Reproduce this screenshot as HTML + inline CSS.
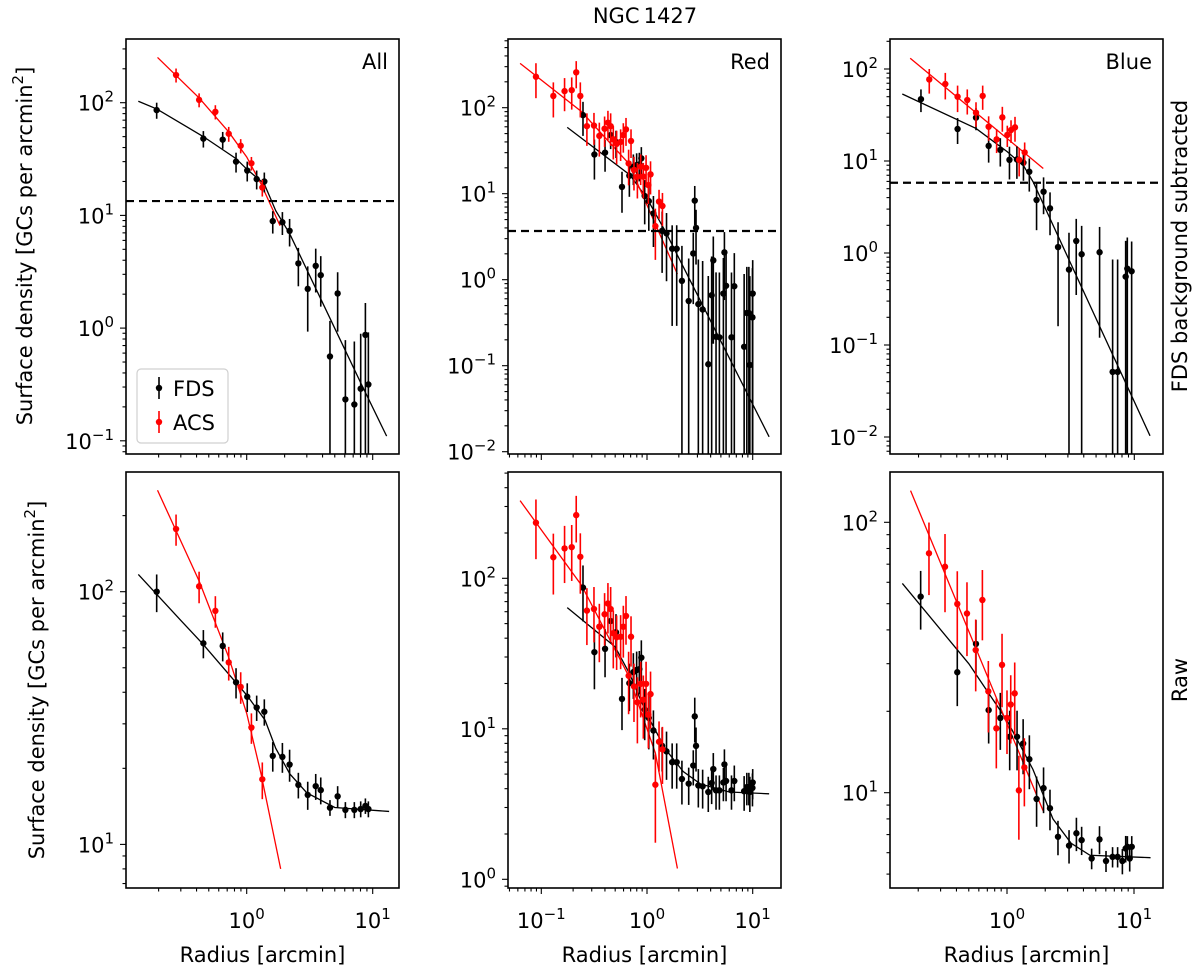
<!DOCTYPE html>
<html><head><meta charset="utf-8"><style>
html,body{margin:0;padding:0;background:#fff;}
svg{display:block;font-family:"DejaVu Sans","Liberation Sans",sans-serif;}
</style></head><body>
<svg id="fig" width="1200" height="978" viewBox="0 0 1200 978" xmlns="http://www.w3.org/2000/svg"></svg>
<script>
// ---------- DATA ----------
// Panel 1: All, background subtracted
const p1FdsR=[0.193,0.453,0.645,0.823,1.01,1.2,1.38,1.61,1.92,2.19,2.57,3.05,3.53,3.87,4.58,5.27,6.07,7.15,8.03,8.75,9.24];
const p1FdsV=[86,48,47,30,25,21,20,8.9,8.7,7.3,3.75,2.23,3.57,2.95,0.56,2.03,0.233,0.21,0.29,0.87,0.316];
const p1FdsE=[14,8,8,6,5,4,4,2,2,2,1.4,1.3,1.5,1.4,0.6,1.1,0.55,0.55,0.6,0.8,0.6];
const p1AcsR=[0.275,0.419,0.564,0.72,0.896,1.09,1.33];
const p1AcsV=[176,106,83,53,41.5,29,17.7];
const p1AcsE=[25,15,12,8,6,4,3];
const p1FitFdsR=[0.138,0.193,0.453,0.82,1.01,1.38,1.7,2.19,4,8,12.9];
const p1FitFdsV=[103,88,50,32,25.5,19,11,6.9,1.68,0.33,0.11];
const p1FitAcsR=[0.196,0.42,0.72,1.0,1.3,1.84];
const p1FitAcsV=[252,110,55,33,19,8.1];
const p1Bg=[13.4];
// Panel 2: Red, background subtracted
const p2FdsR=[0.248,0.318,0.401,0.453,0.509,0.580,0.681,0.743,0.798,0.846,0.884,0.951,1.04,1.15,1.39,1.53,1.73,1.91,2.14,2.48,2.74,2.83,2.91,3.06,3.36,3.80,4.09,4.24,4.5,4.84,5.28,5.40,5.6,6.3,6.7,8.3,8.8,9.2,9.4,10,9.95];
const p2FdsV=[82,28.6,30,48,40,12,16.2,20.6,21.5,21.9,25.8,9.4,8.2,5.9,3.7,3.46,2.29,2.29,0.97,0.565,2.02,8.3,4.0,0.52,0.45,0.104,0.66,1.68,0.217,0.214,0.69,2.08,0.85,0.214,0.84,0.166,0.41,0.41,0.102,0.69,0.365];
const p2FdsE=[35,14,12,15,14,6,7,8,8,8,9,5,4.5,3.5,2.5,2.5,2,2,1.5,1.2,1.5,4,2.5,1.2,1.2,1,1.2,1.5,1,1,1.1,1.5,1.2,1,1.2,1,1,1,1,1,1];
const p2AcsR=[0.089,0.130,0.166,0.194,0.214,0.234,0.270,0.315,0.354,0.397,0.427,0.453,0.480,0.516,0.563,0.597,0.633,0.670,0.706,0.753,0.811,0.871,0.923,0.98,1.03,1.08,1.20,1.30,1.40];
const p2AcsV=[229,137,156,160,258,137,61,62,47,57,67,61,43,38,40,48,56,22.5,41,18.9,15.8,20.6,15.8,20,12.6,16.8,4.2,8.1,7.2];
const p2AcsE=[100,60,65,65,90,60,25,25,20,22,25,25,18,16,16,18,20,10,15,8,7,8,7,8,5,7,2.5,3,3];
const p2FitFdsR=[0.176,0.69,1.0,1.5,14.3];
const p2FitFdsV=[59,16.5,8.8,3.6,0.0149];
const p2FitAcsR=[0.063,0.24,0.67,1.94];
const p2FitAcsV=[328,90,22.5,1.16];
const p2Bg=[3.68];
// Panel 3: Blue, background subtracted
const p3FdsR=[0.209,0.406,0.567,0.713,0.881,1.04,1.19,1.34,1.49,1.70,1.93,2.17,2.51,3.06,3.49,3.85,5.33,6.75,7.39,8.55,8.81,9.53];
const p3FdsV=[47,22.3,29.6,14.6,13.2,10.3,10.4,9.6,7.65,3.77,4.64,3.06,1.16,0.66,1.35,0.97,1.02,0.051,0.051,0.553,0.676,0.633];
const p3FdsE=[13,7,8,5,4.5,4,4,3.5,3,2,2,1.5,1,1,1,1,0.9,0.8,0.8,0.8,0.8,0.7];
const p3AcsR=[0.243,0.325,0.406,0.484,0.567,0.64,0.713,0.824,0.914,1.0,1.07,1.15,1.24,1.37];
const p3AcsV=[77,68.7,50,46,33.5,51,23.6,17.2,29.8,19.2,21.7,23.2,10.3,12.4];
const p3AcsE=[23,22,16,14,10,15,7,5,9,5,6,7,3.5,3.5];
const p3FitFdsR=[0.149,0.567,1.0,1.35,1.6,13.3];
const p3FitFdsV=[53.5,22.6,12.6,8.8,5.9,0.0103];
const p3FitAcsR=[0.172,1.92];
const p3FitAcsV=[131,8.3];
const p3Bg=[5.8];
// Panel 4: All, raw
const p4FdsR=[0.193,0.453,0.645,0.823,1.01,1.2,1.38,1.61,1.92,2.19,2.57,3.05,3.53,3.87,4.58,5.27,6.07,7.15,8.03,8.75,9.24];
const p4FdsV=[100,62.5,61,43.8,38.4,34.8,33.5,22.4,22.2,20.7,17.2,15.7,17.0,16.4,13.97,15.5,13.7,13.7,13.8,14.2,13.8];
const p4FdsE=[17,8,8,6,5,4,4,3,3,3,2,2,2,2,1,1.5,1,1,1,1,1];
const p4AcsR=[0.275,0.419,0.564,0.72,0.896,1.09,1.33];
const p4AcsV=[177,105,84,52.5,42,29,18.1];
const p4AcsE=[25,15,12,8,6,4,3];
const p4FitFdsR=[0.138,0.3,0.45,1.0,1.4,1.7,2.2,3,5,13.5];
const p4FitFdsV=[117,77,62,39,31,24,19,16,14,13.5];
const p4FitAcsR=[0.196,0.42,0.72,1.0,1.3,1.86];
const p4FitAcsV=[252,110,55,33,19,8];
// Panel 5: Red, raw
const p5FdsR=[0.248,0.318,0.401,0.453,0.509,0.580,0.681,0.743,0.798,0.846,0.884,0.951,1.04,1.15,1.39,1.53,1.73,1.91,2.14,2.48,2.74,2.83,2.91,3.06,3.36,3.80,4.09,4.24,4.5,4.84,5.28,5.40,5.6,6.3,6.7,8.3,8.8,9.2,9.4,10,9.95];
const p5FdsV=[86.7,32.3,34,52,43.8,15.8,20.1,23.8,24.6,24.9,29.7,13.4,11.8,9.75,7.7,7.08,6.0,6.0,4.64,4.32,5.7,12.1,7.7,4.2,4.15,3.8,4.36,5.4,3.9,3.9,4.4,5.8,4.5,3.9,4.5,3.85,4.1,4.1,3.8,4.4,4.05];
const p5FdsE=[35,14,12,15,14,6,7,8,8,8,9,5,4.5,3.5,2.5,2.5,2,2,1.5,1.2,1.5,4,2.5,1.2,1.2,1,1.2,1.5,1,1,1.1,1.5,1.2,1,1.2,1,1,1,1,1,1];
const p5AcsR=[0.089,0.130,0.166,0.194,0.214,0.234,0.270,0.315,0.354,0.397,0.427,0.453,0.480,0.516,0.563,0.597,0.633,0.670,0.706,0.753,0.811,0.871,0.923,0.98,1.03,1.08,1.20,1.30,1.40];
const p5AcsV=[234,138,158,161,263,139,61,62.5,47.7,57.7,68,62.5,43.2,40.6,40.9,47.7,56.2,22.5,40.9,19.1,15.0,19.9,15.6,19.9,12.4,17.0,4.25,8.2,7.3];
const p5AcsE=[100,60,65,65,90,60,25,25,20,22,25,25,18,16,16,18,20,10,15,8,7,8,7,8,5,7,2.5,3,3];
const p5FitFdsR=[0.176,0.5,0.68,1.0,1.5,2.2,3.2,6,14.3];
const p5FitFdsV=[63.8,35,23.4,12.4,7.3,5.2,4.3,3.8,3.7];
const p5FitAcsR=[0.063,0.24,0.67,1.2,1.94];
const p5FitAcsV=[328,90,22.5,6.9,1.18];
// Panel 6: Blue, raw
const p6FdsR=[0.209,0.406,0.57,0.717,0.886,1.05,1.2,1.34,1.5,1.71,1.94,2.18,2.52,3.08,3.52,3.87,4.64,5.35,6.02,6.78,7.43,8.1,8.6,8.87,9.25,9.6];
const p6FdsV=[53.1,27.9,35.5,20.2,18.9,16.1,16.1,15.2,13.3,9.48,10.4,8.76,6.87,6.37,7.08,6.68,5.71,6.72,5.59,5.79,5.79,5.59,6.22,6.31,5.71,6.31];
const p6FdsE=[13,7,8,5,4.5,4,4,3.5,3,2,2,1.5,1,0.9,1,0.8,0.5,0.8,0.5,0.5,0.5,0.6,0.7,0.6,0.6,0.6];
const p6AcsR=[0.243,0.325,0.406,0.484,0.567,0.64,0.713,0.824,0.914,1.0,1.07,1.15,1.24,1.37];
const p6AcsV=[76.8,68.5,49.9,46,33.7,51.6,23.7,17.3,29.7,18.9,21.2,23.3,10.2,12.4];
const p6AcsE=[23,22,16,14,10,15,7,5,9,5,6,7,3.5,3.5];
const p6FitFdsR=[0.15,0.5,1.0,1.6,2.3,3.2,4.5,13.5];
const p6FitFdsV=[59.4,30,18.5,12.2,8,6.5,5.87,5.75];
const p6FitAcsR=[0.174,1.93];
const p6FitAcsV=[131,8.55];

// ---------- RENDER ----------
const NS="http://www.w3.org/2000/svg";
const svg=document.getElementById('fig');
function mk(tag,attrs,parent){const e=document.createElementNS(NS,tag);for(const k in attrs)e.setAttribute(k,attrs[k]);(parent||svg).appendChild(e);return e;}
const FS=21;

function powLabel(parent,x,y,exp,anchor){
  const t=mk('text',{x:x,y:y,'font-size':FS,'text-anchor':anchor,fill:'#000'},parent);
  t.appendChild(document.createTextNode('10'));
  const s=mk('tspan',{dy:-9,'font-size':15},t);
  s.textContent=exp<0?('\u2212'+(-exp)):String(exp);
  return t;
}

function panel(cfg){
  const g=mk('g',{});
  
  
  const L=cfg.box[0],R=cfg.box[1],T=cfg.box[2],B=cfg.box[3];
  const X=r=>cfg.x1+Math.log10(r)*cfg.xd;
  const Y=v=>cfg.y2-(Math.log10(v)-2)*cfg.yd;
  const cid='clip'+cfg.id;
  const cp=mk('clipPath',{id:cid},g);
  mk('rect',{x:L,y:T,width:R-L,height:B-T},cp);
  const plot=mk('g',{'clip-path':'url(#'+cid+')'},g);
  
  
  function fit(rs,vs,col,nm){
    let d='';for(let i=0;i<rs.length;i++)d+=(i?'L':'M')+X(rs[i]).toFixed(2)+' '+Y(vs[i]).toFixed(2);
    const p=mk('path',{d:d,stroke:col,'stroke-width':1.3,fill:'none'},plot);
    
    
  }
  function series(rs,vs,es,col,nm){
    const sg=mk('g',{},plot);
    
    
    for(let i=0;i<rs.length;i++){
      const x=X(rs[i]);const hi=vs[i]+es[i];const lo=vs[i]-es[i];
      const yl=lo>0?Y(lo):B+20;
      const ln=mk('line',{x1:x,x2:x,y1:Y(hi),y2:yl,stroke:col,'stroke-width':1.6},sg);
      
      
      const c=mk('circle',{cx:x,cy:Y(vs[i]),r:3.2,fill:col},sg);
      
      
    }
  }
  fit(cfg.fFR,cfg.fFV,'#000','fds-fit-line');
  fit(cfg.fAR,cfg.fAV,'#ff0000','acs-fit-line');
  series(cfg.fR,cfg.fV,cfg.fE,'#000','fds-series');
  series(cfg.aR,cfg.aV,cfg.aE,'#ff0000','acs-series');
  if(cfg.bg){
    const bl=mk('line',{x1:L,x2:R,y1:Y(cfg.bg[0]),y2:Y(cfg.bg[0]),stroke:'#000','stroke-width':2.2,'stroke-dasharray':'8 5'},plot);
    
    
  }
  const tg=mk('g',{stroke:'#000','stroke-width':1.1},g);
  
  
  const lx0=(L-cfg.x1)/cfg.xd, lx1=(R-cfg.x1)/cfg.xd;
  for(let e=Math.floor(lx0);e<=Math.ceil(lx1);e++){
    for(let m=1;m<10;m++){
      const lv=e+Math.log10(m);if(lv<lx0||lv>lx1)continue;
      const x=cfg.x1+lv*cfg.xd;const len=m===1?6:3.5;
      mk('line',{x1:x,x2:x,y1:B,y2:B+len},tg);
      if(m===1&&cfg.xlabels){
        const t=powLabel(g,x,928,e,'middle');
        
        
      }
    }
  }
  const ly0=2-(B-cfg.y2)/cfg.yd, ly1=2+(cfg.y2-T)/cfg.yd;
  for(let e=Math.floor(ly0);e<=Math.ceil(ly1);e++){
    for(let m=1;m<10;m++){
      const lv=e+Math.log10(m);if(lv<ly0||lv>ly1)continue;
      const y=cfg.y2-(lv-2)*cfg.yd;const len=m===1?6:3.5;
      mk('line',{x1:L,x2:L-len,y1:y,y2:y},tg);
      if(m===1){
        const t=powLabel(g,L-12,y+8,e,'end');
        
        
      }
    }
  }
  const fr=mk('rect',{x:L,y:T,width:R-L,height:B-T,fill:'none',stroke:'#000','stroke-width':1.6},g);
  
  
  if(cfg.label){
    const t=mk('text',{x:R-11,y:T+30,'font-size':FS,'text-anchor':'end'},g);
    t.textContent=cfg.label;
    
    
  }
  if(cfg.xlabels){
    const t=mk('text',{x:(L+R)/2,y:962,'font-size':FS,'text-anchor':'middle'},g);
    t.textContent='Radius [arcmin]';
    
    
  }
}

const C1=[126,399],C2=[508,781],C3=[890,1163],R1=[39,454],R2=[472,888];
panel({id:1,name:'panel-all-subtracted',box:[C1[0],C1[1],R1[0],R1[1]],x1:246.7,xd:126,y2:102.7,yd:112.7,label:'All',
  fR:p1FdsR,fV:p1FdsV,fE:p1FdsE,aR:p1AcsR,aV:p1AcsV,aE:p1AcsE,fFR:p1FitFdsR,fFV:p1FitFdsV,fAR:p1FitAcsR,fAV:p1FitAcsV,bg:p1Bg});
panel({id:2,name:'panel-red-subtracted',box:[C2[0],C2[1],R1[0],R1[1]],x1:647,xd:105.7,y2:107.7,yd:86,label:'Red',
  fR:p2FdsR,fV:p2FdsV,fE:p2FdsE,aR:p2AcsR,aV:p2AcsV,aE:p2AcsE,fFR:p2FitFdsR,fFV:p2FitFdsV,fAR:p2FitAcsR,fAV:p2FitAcsV,bg:p2Bg});
panel({id:3,name:'panel-blue-subtracted',box:[C3[0],C3[1],R1[0],R1[1]],x1:1007.3,xd:127,y2:69,yd:92,label:'Blue',
  fR:p3FdsR,fV:p3FdsV,fE:p3FdsE,aR:p3AcsR,aV:p3AcsV,aE:p3AcsE,fFR:p3FitFdsR,fFV:p3FitFdsV,fAR:p3FitAcsR,fAV:p3FitAcsV,bg:p3Bg});
panel({id:4,name:'panel-all-raw',box:[C1[0],C1[1],R2[0],R2[1]],x1:246.7,xd:126,y2:591.7,yd:252.7,xlabels:true,
  fR:p4FdsR,fV:p4FdsV,fE:p4FdsE,aR:p4AcsR,aV:p4AcsV,aE:p4AcsE,fFR:p4FitFdsR,fFV:p4FitFdsV,fAR:p4FitAcsR,fAV:p4FitAcsV});
panel({id:5,name:'panel-red-raw',box:[C2[0],C2[1],R2[0],R2[1]],x1:647,xd:105.7,y2:578.3,yd:150.5,xlabels:true,
  fR:p5FdsR,fV:p5FdsV,fE:p5FdsE,aR:p5AcsR,aV:p5AcsV,aE:p5AcsE,fFR:p5FitFdsR,fFV:p5FitFdsV,fAR:p5FitAcsR,fAV:p5FitAcsV});
panel({id:6,name:'panel-blue-raw',box:[C3[0],C3[1],R2[0],R2[1]],x1:1007,xd:127,y2:522.3,yd:270.4,xlabels:true,
  fR:p6FdsR,fV:p6FdsV,fE:p6FdsE,aR:p6AcsR,aV:p6AcsV,aE:p6AcsE,fFR:p6FitFdsR,fFV:p6FitFdsV,fAR:p6FitAcsR,fAV:p6FitAcsV});

const title=mk('text',{x:645,y:23,'font-size':FS,'text-anchor':'middle'});
title.textContent='NGC\u20091427';


function ylab(x,y,txt){
  const t=mk('text',{x:0,y:0,'font-size':FS,'text-anchor':'middle',transform:'translate('+x+','+y+') rotate(-90)'});
  t.appendChild(document.createTextNode(txt));
  return t;
}
function densLabel(x,y){
  const t=mk('text',{x:0,y:0,'font-size':FS,'text-anchor':'middle',transform:'translate('+x+','+y+') rotate(-90)'});
  t.appendChild(document.createTextNode('Surface density [GCs per arcmin'));
  const s=mk('tspan',{dy:-9,'font-size':15},t);s.textContent='2';
  const s2=mk('tspan',{dy:9},t);s2.textContent=']';
  return t;
}
const yl1=densLabel(32,246);


const yl2=densLabel(44,680);


const rl1=ylab(1187,246,'FDS background subtracted');


const rl2=ylab(1187,680,'Raw');



const lg=mk('g',{});


mk('rect',{x:137,y:369,width:91,height:74,rx:4,fill:'#fff','fill-opacity':0.8,stroke:'#d0d0d0','stroke-width':1.2},lg);
const legItems=[['FDS','#000',388],['ACS','#ff0000',422]];
legItems.forEach(it=>{
  const e=mk('g',{},lg);
  
  
  mk('line',{x1:159,x2:159,y1:it[2]-11,y2:it[2]+11,stroke:it[1],'stroke-width':1.6},e);
  mk('circle',{cx:159,cy:it[2],r:3.2,fill:it[1]},e);
  const t=mk('text',{x:173,y:it[2]+8,'font-size':FS},e);
  t.textContent=it[0];
});
</script>
</body></html>
